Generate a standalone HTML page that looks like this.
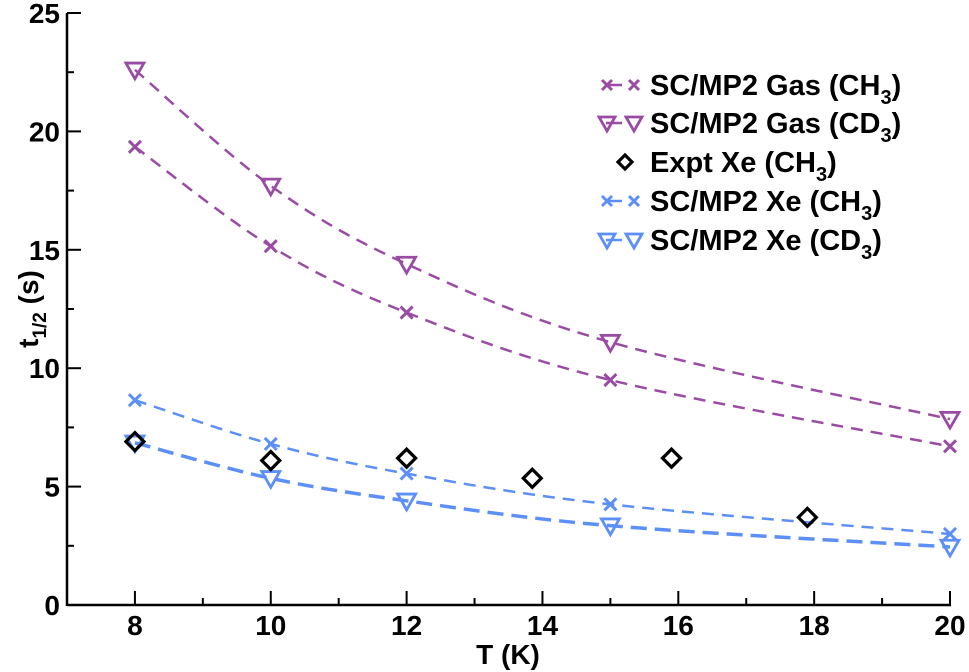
<!DOCTYPE html>
<html><head><meta charset="utf-8"><style>
html,body{margin:0;padding:0;background:#fff}
svg{display:block;font-family:"Liberation Sans",Arial,sans-serif;font-weight:bold}
</style></head><body>
<svg id="chart" width="969" height="672" viewBox="0 0 969 672"></svg>
<script>
const gasCH3X=[8,10,12,15,20];
const gasCH3Y=[19.35,15.15,12.35,9.5,6.7];
const gasCD3X=[8,10,12,15,20];
const gasCD3Y=[22.6,17.7,14.4,11.1,7.85];
const exptX=[8,10,12,13.85,15.9,17.9];
const exptY=[6.9,6.1,6.2,5.35,6.2,3.7];
const xeCH3X=[8,10,12,15,20];
const xeCH3Y=[8.65,6.8,5.55,4.25,3.0];
const xeCD3X=[8,10,12,15,20];
const xeCD3Y=[6.85,5.35,4.4,3.35,2.45];
const xTicks=[8,10,12,14,16,18,20];
const yTicks=[0,5,10,15,20,25];

const NS="http://www.w3.org/2000/svg";
const svg=document.getElementById('chart');
const X0=67,X1=950,Y0=605,Y1=13;
const sx=v=>X0+(v-7)/(20-7)*(X1-X0);
const sy=v=>Y0-(v-0)/(25-0)*(Y0-Y1);
function mk(tag,attrs,parent){const e=document.createElementNS(NS,tag);for(const k in attrs)e.setAttribute(k,attrs[k]);(parent||svg).appendChild(e);return e;}
const PUR="#9a4ca5",BLU="#5c8ff7";

function smooth(xs,ys){
  const p=xs.map((x,i)=>[sx(x),sy(ys[i])]);
  let d=`M${p[0][0]},${p[0][1]}`;
  for(let i=0;i<p.length-1;i++){
    const p0=p[i-1]||p[i],p1=p[i],p2=p[i+1],p3=p[i+2]||p2;
    const c1=[p1[0]+(p2[0]-p0[0])/6,p1[1]+(p2[1]-p0[1])/6];
    const c2=[p2[0]-(p3[0]-p1[0])/6,p2[1]-(p3[1]-p1[1])/6];
    d+=` C${c1[0]},${c1[1]} ${c2[0]},${c2[1]} ${p2[0]},${p2[1]}`;
  }
  return d;
}
function cross(g,x,y,c,s){mk('path',{d:`M${x-s},${y-s}L${x+s},${y+s}M${x-s},${y+s}L${x+s},${y-s}`,stroke:c,'stroke-width':3,fill:'none'},g);}
function tri(g,x,y,c,s){mk('path',{d:`M${x-s},${y-s*0.75}L${x+s},${y-s*0.75}L${x},${y+s}Z`,stroke:c,'stroke-width':2.8,fill:'none'},g);}
function dia(g,x,y,c,s){mk('path',{d:`M${x},${y-s}L${x+s},${y}L${x},${y+s}L${x-s},${y}Z`,stroke:c,'stroke-width':3.2,fill:'none'},g);}

const ax=mk('g',{});
mk('line',{x1:X0,y1:Y0,x2:X1+1,y2:Y0,stroke:'#000','stroke-width':2.5},ax);
mk('line',{x1:X0,y1:Y0+1,x2:X0,y2:Y1,stroke:'#000','stroke-width':2.5},ax);
for(let v=7;v<=20;v++){const major=v%2===0;mk('line',{x1:sx(v),y1:Y0,x2:sx(v),y2:Y0-(major?14:7),stroke:'#000','stroke-width':2},ax);}
for(let v=0;v<=25;v+=2.5){const major=v%5===0;mk('line',{x1:X0,y1:sy(v),x2:X0+(major?14:7),y2:sy(v),stroke:'#000','stroke-width':2},ax);}
xTicks.forEach(t=>{const e=mk('text',{x:sx(t),y:Y0+30,'text-anchor':'middle','font-size':28},ax);e.textContent=t;

});
yTicks.forEach(t=>{const e=mk('text',{x:X0-7,y:sy(t)+10,'text-anchor':'end','font-size':28},ax);e.textContent=t;

});
const xt=mk('text',{x:508,y:664,'text-anchor':'middle','font-size':28,});xt.textContent='T (K)';
const yt=mk('text',{transform:'translate(38,309) rotate(-90)','text-anchor':'middle','font-size':28,});
yt.innerHTML='t<tspan font-size="19" dy="8">1/2</tspan><tspan dy="-8"> (s)</tspan>';

function series(name,xs,ys,c,marker,dash,w,line){
  const g=mk('g',{});
  if(line)mk('path',{d:smooth(xs,ys),stroke:c,'stroke-width':w,'stroke-dasharray':dash,fill:'none'},g);
  xs.forEach((x,i)=>marker(g,sx(x),sy(ys[i]),c,marker===dia?9:(marker===tri?9:6)));
}
series('series-gas-ch3',gasCH3X,gasCH3Y,PUR,cross,'12,8',2.5,true);
series('series-gas-cd3',gasCD3X,gasCD3Y,PUR,tri,'12,8',2.5,true);
series('series-xe-ch3',xeCH3X,xeCH3Y,BLU,cross,'12,8',2.5,true);
series('series-xe-cd3',xeCD3X,xeCD3Y,BLU,tri,'16,8',3.5,true);
series('series-expt-xe',exptX,exptY,'#000',dia,'',0,false);

const lg=mk('g',{});
const items=[['SC/MP2 Gas (CH','3',')',PUR,cross,85],['SC/MP2 Gas (CD','3',')',PUR,tri,123],['Expt Xe (CH','3',')','#000',dia,162],['SC/MP2 Xe (CH','3',')',BLU,cross,201],['SC/MP2 Xe (CD','3',')',BLU,tri,240]];
items.forEach(it=>{
  const g=mk('g',{},lg);
  
  
  const y=it[5];
  if(it[4]===dia){dia(g,625,y,it[3],7);}
  else{
    mk('line',{x1:606,y1:y,x2:622,y2:y,stroke:it[3],'stroke-width':2.5},g);
    it[4](g,607,y,it[3],it[4]===tri?8:5);
    it[4](g,634,y,it[3],it[4]===tri?8:5);
  }
  const t=mk('text',{x:650,y:y+10,'font-size':29},g);
  t.innerHTML=it[0]+'<tspan font-size="20" dy="9">'+it[1]+'</tspan><tspan dy="-9">'+it[2]+'</tspan>';
});
</script>
</body></html>
